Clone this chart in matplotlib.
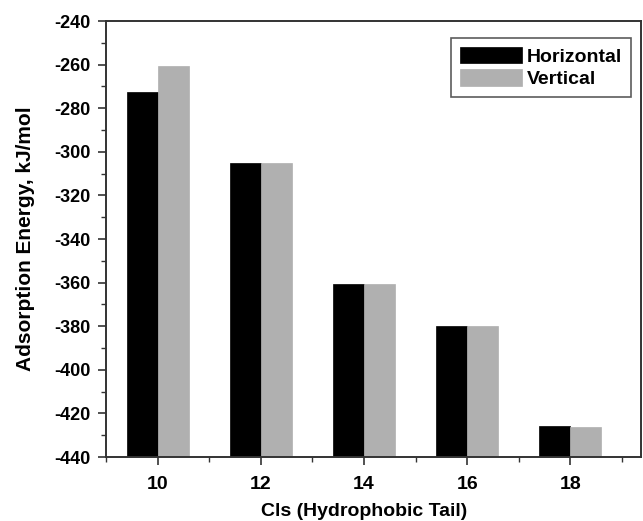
import matplotlib
matplotlib.use("Agg")
import matplotlib.pyplot as plt
from matplotlib.ticker import MultipleLocator
import numpy as np

plt.rcParams['font.family'] = ['Liberation Sans', 'DejaVu Sans']
plt.rcParams['font.weight'] = 'bold'
plt.rcParams['axes.unicode_minus'] = False

tail_lengths = [10, 12, 14, 16, 18]
horizontal = [-272.5, -305, -360.5, -380, -426]
vertical = [-260.5, -305, -360.5, -380, -426.3]
series_names = ["Horizontal", "Vertical"]

base = -440
width = 0.6
x = np.array(tail_lengths, dtype=float)

fig = plt.figure(figsize=(6.43, 5.21), dpi=100)
ax = fig.add_axes([106/643, 1 - 457/521, (641 - 106)/643, (457 - 21)/521])

h_vals = np.array(horizontal)
v_vals = np.array(vertical)
ax.bar(x - width/2, h_vals - base, width, bottom=base, color='black',
       edgecolor='black', linewidth=0.5, label=series_names[0])
ax.bar(x + width/2, v_vals - base, width, bottom=base, color='#b0b0b0',
       edgecolor='#b0b0b0', linewidth=0.5, label=series_names[1])

ax.set_xlim(9.0, 19.37)
ax.set_ylim(-440, -240)
ax.set_xticks(tail_lengths)
ax.set_xticklabels([str(t) for t in tail_lengths])
ax.xaxis.set_minor_locator(MultipleLocator(1))
ax.set_yticks(np.arange(-440, -239, 20))
ax.yaxis.set_minor_locator(MultipleLocator(10))

ax.tick_params(axis='both', which='major', direction='out', length=6, width=1.2,
               color='#333333')
ax.tick_params(axis='y', which='major', pad=5, labelsize=13)
ax.tick_params(axis='x', which='major', pad=8, labelsize=14)
ax.tick_params(axis='both', which='minor', direction='out', length=3.5, width=1.0,
               color='#333333')
for lab in ax.get_xticklabels() + ax.get_yticklabels():
    lab.set_fontweight('bold')

for side in ['left', 'bottom', 'top', 'right']:
    ax.spines[side].set_linewidth(1.4)
    ax.spines[side].set_color('#333333')

ax.set_xlabel("Cls (Hydrophobic Tail)", fontsize=14, fontweight='bold')
ax.xaxis.label.set_verticalalignment('center')
ax.xaxis.set_label_coords(0.483, (521 - 512 - 64) / 436)
ax.set_ylabel("Adsorption Energy, kJ/mol", fontsize=15, fontweight='bold', labelpad=14)

leg = ax.legend(loc='upper right', bbox_to_anchor=(0.981, 0.961), borderaxespad=0,
                frameon=True, fancybox=False, handlelength=3.2, handleheight=0.9,
                handletextpad=0.25, borderpad=0.45, labelspacing=0.2,
                prop={'weight': 'bold', 'size': 14})
leg.get_frame().set_edgecolor('#333333')
leg.get_frame().set_linewidth(1.2)

fig.savefig("out.png", dpi=100)
